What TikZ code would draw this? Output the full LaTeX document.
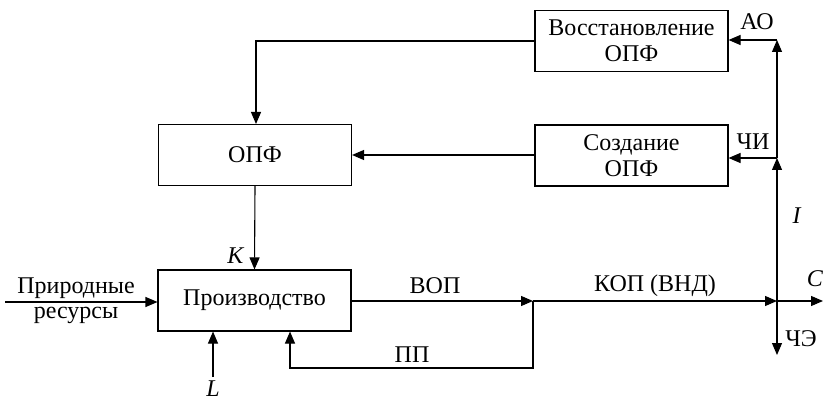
\documentclass[tikz,border=0pt]{standalone}
\usepackage{fontspec}
\setmainfont{Liberation Serif}
\usetikzlibrary{arrows.meta}
\begin{document}
\begin{tikzpicture}[x=1pt,y=-1pt,
  box/.style={draw,line width=1.1pt,minimum width=193pt,minimum height=61pt,inner sep=0pt,align=center,font=\fontsize{24}{26}\selectfont},
  lbl/.style={inner sep=0pt,font=\fontsize{24}{26}\selectfont},
  conn/.style={line width=1.1pt},
  arr/.style={conn,-{Triangle[length=12pt,width=10pt]}}]
\useasboundingbox (0,0) rectangle (824,403);
\node[box] (vos) at (631.5,41) {Восстановление\\ОПФ};
\node[box] (soz) at (631.5,155.5) {Создание\\ОПФ};
\node[box] (opf) at (255,155) {ОПФ};
\node[box] (pro) at (254.5,300.5) {Производство};
\coordinate (j1) at (533,301);
\coordinate (j2) at (777,301);
\coordinate (cend) at (823,301);
\coordinate (che) at (777,355);
\coordinate (rstart) at (5,302);
\coordinate (lstart) at (213,377);
\coordinate (ppl) at (533,368);
\coordinate (ppr) at (290,368);
\coordinate (vsplit) at (777,158);
\coordinate (vtop) at (777,40);
% connectors
\draw[arr] (vos.west) -- (256,41) -- (256,124);
\draw[arr] (soz.west |- opf.east) -- (opf.east);
\draw[arr] (opf.south) -- (pro.north);
\draw[arr] (rstart) -- (pro.west |- rstart);
\draw[arr] (lstart) -- (lstart |- pro.south);
\draw[arr] (pro.east |- j1) -- (j1);
\draw[arr] (j1) -- (j2);
\draw[arr] (j2) -- (cend);
\draw[arr] (j1) -- (ppl) -- (ppr) -- (ppr |- pro.south);
\draw[arr] (j2) -- (che);
\draw[arr] (j2) -- (vsplit);
\draw[arr] (vsplit) -- (vtop);
\draw[arr] (vsplit) -- (soz.east |- vsplit);
\draw[arr] (vtop) -- (vos.east |- vtop);
% labels
\node[lbl] (lao) at (757,22) {АО};
\node[lbl] (lchi) at (753,142) {ЧИ};
\node[lbl] (li) at (797,216) {\textit{I}};
\node[lbl] (lc) at (815,279) {\textit{C}};
\node[lbl] (lche) at (801,339) {ЧЭ};
\node[lbl] (lkop) at (655,286) {КОП (ВНД)};
\node[lbl] (lvop) at (435,286) {ВОП};
\node[lbl] (lpp) at (412,355) {ПП};
\node[lbl] (lk) at (236,256) {\textit{K}};
\node[lbl] (ll) at (213,389) {\textit{L}};
\node[lbl] (lr1) at (76,288) {Природные};
\node[lbl] (lr2) at (76,315) {ресурсы};
\end{tikzpicture}
\end{document}
